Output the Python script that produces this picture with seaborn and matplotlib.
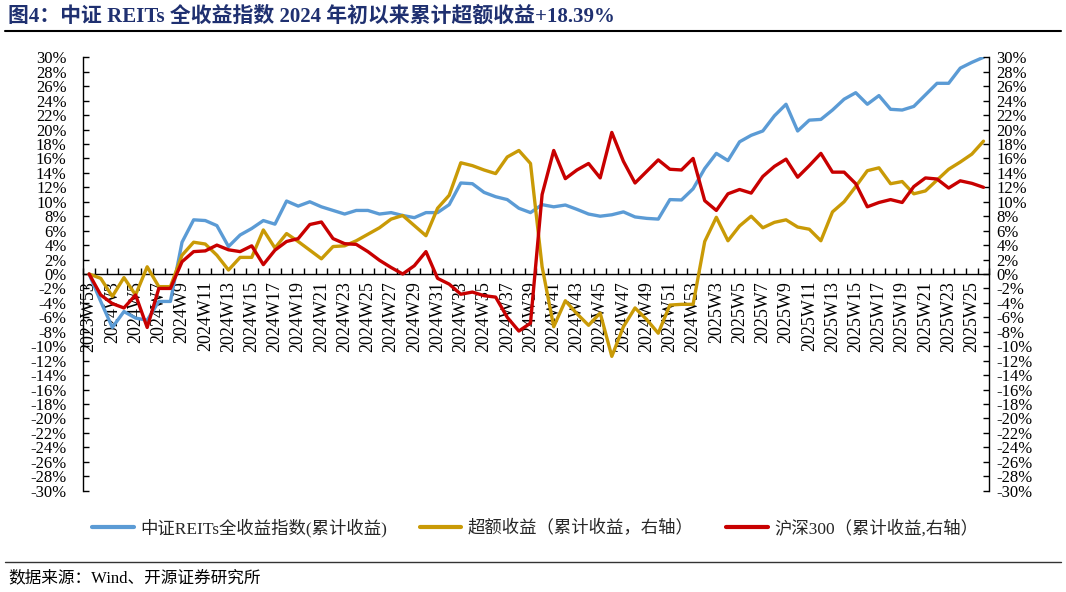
import numpy as np
import pandas as pd
import matplotlib
matplotlib.use("Agg")
import matplotlib.pyplot as plt
import seaborn as sns
from matplotlib.lines import Line2D
from matplotlib.ticker import FuncFormatter

# ---------------- data ----------------
categories = (["2023W53"]
              + [f"2024W{w}" for w in range(2, 54)]
              + [f"2025W{w}" for w in range(2, 27)])

reits_total = [0, -3.8, -7.4, -5.2, -6.1, -6.4, -3.8, -3.8, 4.4, 7.5,
               7.4, 6.7, 3.8, 5.4, 6.3, 7.4, 6.9, 10.1, 9.4, 10.0,
               9.3, 8.8, 8.3, 8.8, 8.8, 8.3, 8.5, 8.1, 7.8, 8.5,
               8.5, 9.6, 12.6, 12.5, 11.3, 10.7, 10.3, 9.1, 8.5, 9.6,
               9.3, 9.55, 8.95, 8.3, 8.0, 8.2, 8.6, 7.9, 7.7, 7.6,
               10.3, 10.25, 11.8, 14.6, 16.7, 15.7, 18.3, 19.2, 19.8, 21.9,
               23.5, 19.8, 21.3, 21.4, 22.7, 24.2, 25.1, 23.5, 24.7, 22.8,
               22.7, 23.2, 24.8, 26.4, 26.4, 28.5, 29.3, 30.0]

excess_return = [0, -0.6, -3.1, -0.5, -2.9, 1.0, -1.75, -1.75, 2.6, 4.4,
                 4.15, 2.6, 0.55, 2.3, 2.3, 6.1, 3.6, 5.6, 4.5, 3.3,
                 2.1, 3.8, 3.9, 4.6, 5.5, 6.4, 7.6, 8.1, 6.7, 5.3,
                 9.1, 10.9, 15.4, 15.0, 14.4, 13.9, 16.2, 17.1, 15.3, 1.0,
                 -7.3, -3.7, -5.5, -7.1, -5.4, -11.4, -7.3, -4.7, -6.3, -8.2,
                 -4.3, -4.2, -4.2, 4.5, 7.85, 4.6, 6.65, 8.0, 6.4, 7.15,
                 7.5, 6.5, 6.2, 4.6, 8.6, 10.0, 12.1, 14.3, 14.7, 12.5,
                 12.8, 11.1, 11.5, 13.0, 14.5, 15.5, 16.6, 18.39]

hs300 = [0, -2.9, -4.1, -4.7, -2.9, -7.4, -2.0, -2.0, 1.7, 3.1,
         3.2, 4.0, 3.35, 3.1, 3.9, 1.3, 3.3, 4.5, 4.9, 6.85,
         7.2, 4.9, 4.2, 4.1, 3.1, 1.9, 0.9, 0.0, 1.15, 3.1,
         -0.6, -1.4, -2.8, -2.5, -3.0, -3.2, -6.0, -7.9, -6.8, 11.0,
         17.1, 13.2, 14.4, 15.3, 13.3, 19.6, 15.6, 12.6, 14.2, 15.8,
         14.5, 14.4, 16.0, 10.15, 8.8, 11.1, 11.7, 11.2, 13.5, 14.9,
         15.9, 13.4, 15.0, 16.7, 14.1, 14.1, 12.5, 9.3, 9.9, 10.3,
         9.9, 12.1, 13.3, 13.15, 11.9, 12.9, 12.55, 12.0]

y_ticks = list(range(-30, 31, 2))

series_labels = ["中证REITs全收益指数(累计收益)",
                 "超额收益（累计收益，右轴）",
                 "沪深300（累计收益,右轴）"]
title_text = "图4：中证 REITs 全收益指数 2024 年初以来累计超额收益+18.39%"
source_text = "数据来源：Wind、开源证券研究所"

BLUE = "#5B9BD5"
GOLD = "#C99A06"
RED = "#C80000"
NAVY = "#1F3070"

# ---------------- style ----------------
sns.set_theme(style="white")
plt.rcParams["font.family"] = ["Liberation Serif", "Noto Sans CJK SC", "DejaVu Sans"]
plt.rcParams["axes.unicode_minus"] = False

W, H = 1066, 592
fig = plt.figure(figsize=(W / 100, H / 100), dpi=100)
fig.patch.set_facecolor("white")

left, right, top, bottom = 83.3 / W, 989.3 / W, 1 - 57.3 / H, 1 - 490.7 / H
ax = fig.add_axes([left, bottom, right - left, top - bottom])
ax2 = ax.twinx()

df = pd.DataFrame({"pos": np.arange(len(categories)),
                   "week": categories,
                   "reits": reits_total,
                   "excess": excess_return,
                   "hs300": hs300})

sns.lineplot(data=df, x="pos", y="reits", ax=ax, color=BLUE, lw=2.4, legend=False)
sns.lineplot(data=df, x="pos", y="excess", ax=ax2, color=GOLD, lw=2.4, legend=False)
sns.lineplot(data=df, x="pos", y="hs300", ax=ax2, color=RED, lw=2.4, legend=False)

for a in (ax, ax2):
    a.set_ylim(-30, 30)
    a.set_yticks(y_ticks)
    a.yaxis.set_major_formatter(FuncFormatter(lambda v, p: f"{int(round(v))}%"))
    a.set_xlabel("")
    a.set_ylabel("")
    a.patch.set_alpha(0)
ax.set_xlim(-0.5, len(categories) - 0.5)

# spines
ax.spines["top"].set_visible(False)
ax.spines["right"].set_visible(False)
ax.spines["bottom"].set_position(("data", 0))
ax2.spines["top"].set_visible(False)
ax2.spines["bottom"].set_visible(False)
ax2.spines["left"].set_visible(False)
for s in (ax.spines["left"], ax.spines["bottom"], ax2.spines["right"]):
    s.set_color("black")
    s.set_linewidth(1.0)

# y ticks
ax.tick_params(axis="y", direction="in", length=4, width=1, pad=12,
               labelsize=12, colors="black", left=True)
ax2.tick_params(axis="y", direction="in", length=4, width=1, pad=5,
                labelsize=12, colors="black", right=True)

# x ticks: labels every 2 categories, tick marks at category boundaries
pos = df["pos"].tolist()
ax.set_xticks(pos[::2])
ax.set_xticklabels(categories[::2], rotation=90)
ax.tick_params(axis="x", which="major", length=0, pad=5, labelsize=13,
               colors="black", bottom=True)
ax.set_xticks(np.arange(-0.5, len(categories), 1), minor=True)
ax.tick_params(axis="x", which="minor", direction="in", length=4, width=1,
               color="black", bottom=True)

# legend
handles = [Line2D([], [], color=BLUE, lw=3),
           Line2D([], [], color=GOLD, lw=3),
           Line2D([], [], color=RED, lw=3)]
fig.legend(handles, series_labels, loc="center", bbox_to_anchor=(0.502, 1 - 528 / H),
           ncol=3, frameon=False, fontsize=12.5, handlelength=2.4,
           handletextpad=0.35, columnspacing=1.9)

# title, rules, source
fig.text(8 / W, 1 - 17 / H, title_text, fontsize=15, fontweight="bold",
         color=NAVY, ha="left", va="center")
fig.add_artist(Line2D([5 / W, 1061 / W], [1 - 31 / H] * 2, color="black", lw=1.5))
fig.add_artist(Line2D([5 / W, 1061 / W], [1 - 562 / H] * 2, color="#333333", lw=1.0))
fig.text(8 / W, 1 - 578 / H, source_text, fontsize=12, color="black",
         ha="left", va="center")

fig.savefig("out.png", dpi=100, facecolor="white")
